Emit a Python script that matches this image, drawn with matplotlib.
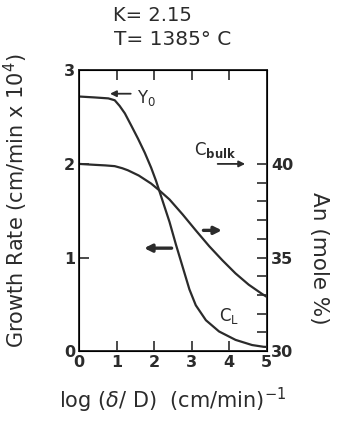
import matplotlib
matplotlib.use('Agg')
import matplotlib.pyplot as plt

# Growth rate curve Y0 (left axis, cm/min x 10^4)
x_growth = [0, 0.42, 0.78, 0.95, 1.08, 1.22, 1.39, 1.57, 1.75, 1.92, 2.05, 2.14, 2.41,
            2.58, 2.76, 2.94, 3.11, 3.38, 3.73, 4.17, 4.61, 4.92, 5.0]
y_growth = [2.72, 2.71, 2.70, 2.68, 2.62, 2.54, 2.41, 2.27, 2.12, 1.96, 1.82, 1.71, 1.38,
            1.14, 0.90, 0.66, 0.49, 0.33, 0.21, 0.12, 0.065, 0.046, 0.045]

# Interface composition (right axis, An mole %)
x_an = [0, 0.42, 0.70, 0.95, 1.15, 1.30, 1.59, 1.92, 2.13, 2.41, 2.76, 3.11, 3.47,
        3.82, 4.17, 4.52, 4.88, 5.0]
y_an = [40.0, 39.95, 39.92, 39.88, 39.77, 39.66, 39.38, 38.95, 38.6, 38.1, 37.3, 36.45,
        35.6, 34.85, 34.15, 33.55, 33.05, 32.9]

x_ticks = [0, 1, 2, 3, 4, 5]
left_ticks = [0, 1, 2, 3]
right_ticks = [30, 35, 40]

ink = '#2b2b2b'
plt.rcParams['font.family'] = 'DejaVu Sans'

fig = plt.figure(figsize=(3.38, 4.21), dpi=100)
ax = fig.add_axes([0.234, 0.166, 0.555, 0.667])
ax.plot(x_growth, y_growth, color=ink, lw=1.6, solid_joinstyle='round')
ax.set_xlim(0, 5)
ax.set_ylim(0, 3)
ax.set_xticks(x_ticks)
ax.set_yticks(left_ticks)
ax.tick_params(direction='in', length=7, width=1.2, colors=ink, labelsize=11.5,
               top=True, pad=3)
for lbl in ax.get_xticklabels() + ax.get_yticklabels():
    lbl.set_fontweight('bold')
for s in ax.spines.values():
    s.set_linewidth(1.4)
    s.set_color(ink)

ax2 = ax.twinx()
ax2.plot(x_an, y_an, color=ink, lw=1.6, solid_joinstyle='round')
ax2.set_ylim(30, 45)
ax2.set_yticks(right_ticks)
ax2.set_yticks(range(30, 41), minor=True)
ax2.tick_params(direction='in', length=7, width=1.2, colors=ink, labelsize=11.5, pad=3)
ax2.tick_params(which='minor', direction='in', length=7, width=1.2, colors=ink)
for lbl in ax2.get_yticklabels():
    lbl.set_fontweight('bold')

ax.set_xlabel(r'log ($\delta$/ D)  (cm/min)$^{-1}$', fontsize=15, color=ink, labelpad=11)
ax.set_ylabel(r'Growth Rate (cm/min x 10$^4$)', fontsize=15, color=ink)
ax.yaxis.set_label_coords(-0.26, 0.535)
ax2.set_ylabel('An (mole %)', fontsize=15.5, color=ink, rotation=-90, va='center')
ax2.yaxis.set_label_coords(1.28, 0.331)

fig.text(0.45, 0.963, 'K= 2.15', fontsize=14, color=ink, ha='center', va='center')
fig.text(0.51, 0.905, 'T= 1385° C', fontsize=14.5, color=ink, ha='center', va='center')

arr = dict(arrowstyle='-|>', color=ink, lw=1.3, mutation_scale=9)
ax.annotate('', xy=(0.75, 2.75), xytext=(1.45, 2.75), arrowprops=arr)
ax.text(1.55, 2.70, r'Y$_0$', fontsize=12, color=ink, va='center')
ax.annotate('', xy=(4.5, 2.0), xytext=(3.62, 2.0), arrowprops=arr)
ax.text(3.62, 2.15, r'C$_{\mathbf{bulk}}$', fontsize=12, color=ink, va='center', ha='center')
ax.annotate('', xy=(1.66, 1.1), xytext=(2.54, 1.1),
            arrowprops=dict(arrowstyle='-|>', color=ink, lw=2.4, mutation_scale=11))
ax.annotate('', xy=(3.88, 1.29), xytext=(3.24, 1.29),
            arrowprops=dict(arrowstyle='-|>', color=ink, lw=2.4, mutation_scale=11))
ax.text(4.0, 0.37, r'C$_\mathrm{L}$', fontsize=12, color=ink, va='center', ha='center')

fig.savefig('out.png', dpi=100)
